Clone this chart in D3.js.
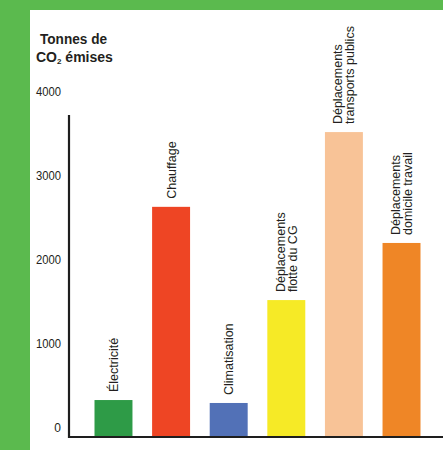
<!DOCTYPE html>
<html>
<head>
<meta charset="utf-8">
<script src="https://cdn.jsdelivr.net/npm/d3@7"></script>
<style>
  html, body { margin: 0; padding: 0; background: #fff; }
  svg { display: block; }
  text { font-family: "Liberation Sans", Arial, sans-serif; fill: #231f20; }
</style>
</head>
<body>
<svg id="chart" width="443" height="450"></svg>
<script>
// ---- Data ----
const categories = [
  ["Électricité"],
  ["Chauffage"],
  ["Climatisation"],
  ["Déplacements", "flotte du CG"],
  ["Déplacements", "transports publics"],
  ["Déplacements", "domicile travail"]
];
const values = [440, 2740, 405, 1630, 3630, 2310];
const colors = ["#2e9b47", "#ee4524", "#5271b7", "#f6ea26", "#f8c397", "#ef8626"];
const yTicks = [0, 1000, 2000, 3000, 4000];
const yTitle = ["Tonnes de", "CO", "2", " émises"];

// ---- Layout ----
const svg = d3.select("#chart");
const W = 443, H = 450;

// green frame
svg.append("rect").attr("x", 0).attr("y", 0).attr("width", W).attr("height", 10).attr("fill", "#5bba4e");
svg.append("rect").attr("x", 0).attr("y", 0).attr("width", 30).attr("height", H).attr("fill", "#5bba4e");

const x0 = 69, yBase = 437;
const x = d3.scaleBand()
  .domain(d3.range(categories.length))
  .range([94.5, 420.5])
  .paddingInner(0.341)
  .paddingOuter(0);
const y = d3.scaleLinear().domain([0, 4000]).range([yBase, yBase - 336]);

// bars
svg.append("g").selectAll("rect")
  .data(values)
  .join("rect")
  .attr("x", (d, i) => x(i))
  .attr("y", d => y(d))
  .attr("width", x.bandwidth())
  .attr("height", d => y(0) - y(d))
  .attr("fill", (d, i) => colors[i]);

// category labels (rotated)
const lab = svg.append("g").selectAll("g")
  .data(categories)
  .join("g")
  .attr("transform", (d, i) => `translate(${x(i) + x.bandwidth() / 2},${y(values[i]) - 8}) rotate(-90)`);
lab.each(function(lines) {
  const g = d3.select(this);
  const n = lines.length;
  lines.forEach((t, k) => {
    g.append("text")
      .attr("x", 0)
      .attr("y", (k - (n - 1) / 2) * 12)
      .attr("dy", "0.36em")
      .attr("font-size", 12.5)
      .text(t);
  });
});

// axes
const yAxis = d3.axisLeft(y).tickValues(yTicks).tickSize(0).tickFormat(d3.format("d"));
const gy = svg.append("g").attr("transform", `translate(${x0},0)`).call(yAxis);
gy.select(".domain").remove();
gy.selectAll(".tick text")
  .attr("x", -8)
  .attr("dy", "-0.5em")
  .attr("font-size", 12)
  .attr("font-weight", 500)
  .attr("font-family", "Liberation Sans Narrow, Liberation Sans, Arial, sans-serif")
  .attr("fill", "#231f20");
gy.selectAll(".tick text").each(function(d) {
  const t = d3.select(this);
  if (String(d).length === 4) t.attr("textLength", 25).attr("lengthAdjust", "spacingAndGlyphs");
});

svg.append("line").attr("x1", x0).attr("x2", x0).attr("y1", 115).attr("y2", yBase + 1)
  .attr("stroke", "#1e1e1e").attr("stroke-width", 2.2);
svg.append("line").attr("x1", x0 - 1).attr("x2", W).attr("y1", yBase).attr("y2", yBase)
  .attr("stroke", "#1e1e1e").attr("stroke-width", 2.2);

// axis title
svg.append("text").attr("x", 40).attr("y", 44)
  .attr("font-size", 14).attr("font-weight", 700)
  .attr("textLength", 67).attr("lengthAdjust", "spacingAndGlyphs")
  .text(yTitle[0]);
const t2 = svg.append("text").attr("x", 36).attr("y", 62)
  .attr("font-size", 14).attr("font-weight", 700);
t2.append("tspan").text(yTitle[1]);
t2.append("tspan").attr("font-size", 8).attr("dy", 2).text(yTitle[2]);
t2.append("tspan").attr("dy", -2).text(yTitle[3]);
</script>
</body>
</html>
